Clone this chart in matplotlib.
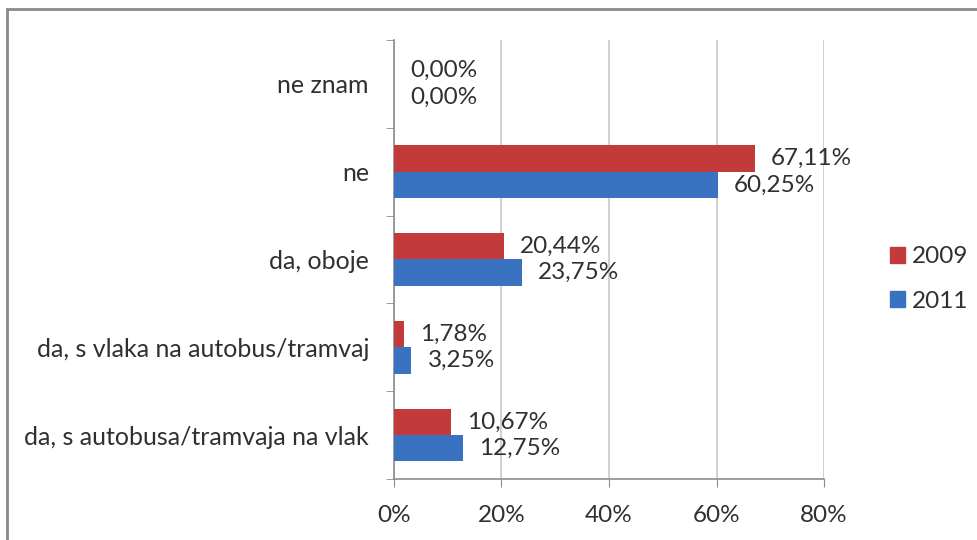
import numpy as np
import matplotlib.pyplot as plt
from matplotlib.patches import Rectangle, Patch

categories = ['da, s autobusa/tramvaja na vlak', 'da, s vlaka na autobus/tramvaj',
              'da, oboje', 'ne', 'ne znam']
values_2009 = [10.67, 1.78, 20.44, 67.11, 0.00]
values_2011 = [12.75, 3.25, 23.75, 60.25, 0.00]
series_names = ['2009', '2011']
x_ticks = [0, 20, 40, 60, 80]

plt.rcParams['font.family'] = ['Lato', 'DejaVu Sans']

red = '#C33A3A'
blue = '#3A72C2'
text_col = '#303030'
axis_col = '#8C8C8C'
fs = 17.5

fig = plt.figure(figsize=(9.78, 5.40), dpi=100)
ax = fig.add_axes([394 / 978, 61 / 540, 430 / 978, 439 / 540])

# outer frame (only top/left visible in the reference)
fig.patches.append(Rectangle((7 / 978, -0.1), 1.2, (540 - 9) / 540 + 0.1,
                             transform=fig.transFigure, fill=False,
                             edgecolor='#8A8A8A', linewidth=2))

y = np.arange(len(categories))
h = 0.3
ax.barh(y + h / 2, values_2009, height=h, color=red, linewidth=0, zorder=3)
ax.barh(y - h / 2, values_2011, height=h, color=blue, linewidth=0, zorder=3)

def fmt(v):
    return f'{v:.2f}%'.replace('.', ',')

for i in range(len(categories)):
    ax.text(values_2009[i] + 3.0, y[i] + h / 2, fmt(values_2009[i]), va='center', ha='left',
            fontsize=fs, color=text_col)
    ax.text(values_2011[i] + 3.0, y[i] - h / 2, fmt(values_2011[i]), va='center', ha='left',
            fontsize=fs, color=text_col)

ax.set_xlim(0, 80)
ax.set_ylim(-0.5, len(categories) - 0.5)
ax.set_xticks(x_ticks)
ax.set_xticklabels([f'{t}%' for t in x_ticks], fontsize=fs, color=text_col)
ax.set_yticks(y)
ax.set_yticklabels(categories, fontsize=18, color=text_col)
ax.tick_params(axis='y', length=0, pad=18)
ax.set_yticks(np.arange(-0.5, len(categories)), minor=True)
ax.tick_params(axis='y', which='minor', length=6, color=axis_col)
ax.tick_params(axis='x', length=6, color=axis_col, pad=13)

ax.grid(axis='x', color='#C8C8C8', linewidth=1.2, zorder=0)
for s in ['top', 'right']:
    ax.spines[s].set_visible(False)
for s in ['left', 'bottom']:
    ax.spines[s].set_color(axis_col)
    ax.spines[s].set_linewidth(1.2)

handles = [Patch(color=red), Patch(color=blue)]
fig.legend(handles, series_names, loc='center left', bbox_to_anchor=(890 / 978, 1 - 279 / 540),
           frameon=False, fontsize=17.5, handlelength=0.6, handleheight=0.6,
           handletextpad=0.3, labelspacing=0.95, borderpad=0, borderaxespad=0,
           labelcolor=text_col)

fig.savefig('out.png', dpi=100)
